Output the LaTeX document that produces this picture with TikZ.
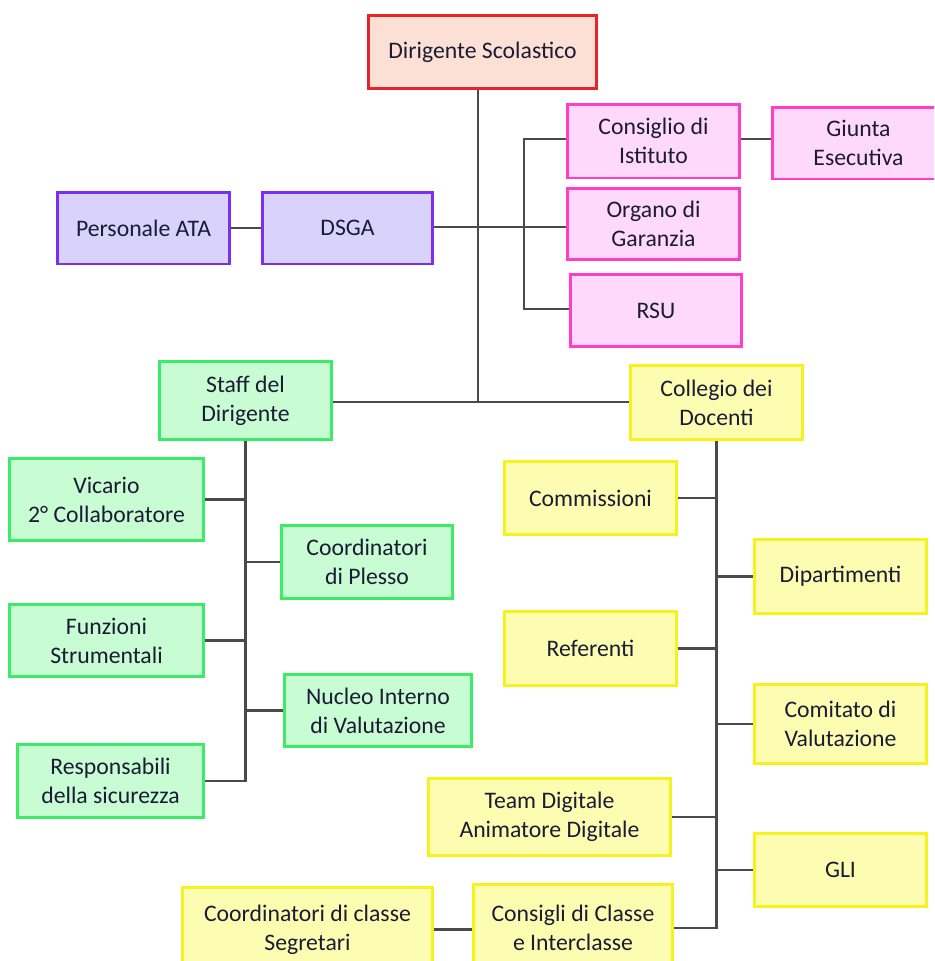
\documentclass[tikz,border=0pt]{standalone}
\usepackage{fontspec}
\setmainfont{Carlito}
\usepackage{xcolor}
\definecolor{OrgRed}{HTML}{E4262C}
\definecolor{OrgRedFill}{HTML}{FDE0D5}
\definecolor{OrgPurple}{HTML}{7B2FF2}
\definecolor{OrgPurpleFill}{HTML}{D9D3FC}
\definecolor{OrgPink}{HTML}{FF3DC6}
\definecolor{OrgPinkFill}{HTML}{FFD9FB}
\definecolor{OrgGreen}{HTML}{3CEB66}
\definecolor{OrgGreenFill}{HTML}{C8FDD3}
\definecolor{OrgYellow}{HTML}{F5F21C}
\definecolor{OrgYellowFill}{HTML}{FDFDB2}
\definecolor{TextNavy}{HTML}{1B1B35}
\definecolor{LineGray}{HTML}{4A4A4A}
\usepackage{tikz}
\usetikzlibrary{calc}
\tikzset{orgline/.style={LineGray,line width=1.4pt}}

\begin{document}
\begin{tikzpicture}[x=0.02cm,y=-0.02cm,
	orgbox/.style={draw,line width=1.7pt,align=center,inner sep=2pt,text=TextNavy,font=\fontsize{13.5}{16.5}\selectfont},
	redbox/.style={orgbox,draw=OrgRed,fill=OrgRedFill},
	purplebox/.style={orgbox,draw=OrgPurple,fill=OrgPurpleFill},
	pinkbox/.style={orgbox,draw=OrgPink,fill=OrgPinkFill},
	greenbox/.style={orgbox,draw=OrgGreen,fill=OrgGreenFill},
	yellowbox/.style={orgbox,draw=OrgYellow,fill=OrgYellowFill}]
		
		\useasboundingbox (0,0) rectangle (934,961);
		\clip (0,0) rectangle (934,961);
		
		%% TOP
		\node[redbox,minimum width=4.58cm,minimum height=1.46cm] (Dirigente) at (482.5,52) {Dirigente Scolastico};
		
		\node[purplebox,minimum width=3.46cm,minimum height=1.44cm] (PersonaleATA) at (143.5,228) {Personale ATA};
		\node[purplebox,minimum width=3.42cm,minimum height=1.44cm] (DSGA) at (347.5,228) {DSGA};
		
		\node[pinkbox,minimum width=3.46cm,minimum height=1.48cm] (Consiglio) at (653.5,141) {Consiglio di\\Istituto};
		\node[pinkbox,minimum width=3.46cm,minimum height=1.44cm] (Giunta) at (858.5,143) {Giunta\\Esecutiva};
		\node[pinkbox,minimum width=3.46cm,minimum height=1.42cm] (Organo) at (653.5,224) {Organo di\\Garanzia};
		\node[pinkbox,minimum width=3.44cm,minimum height=1.44cm] (RSU) at (656,310.5) {RSU};
		
		
		%% STAFF
		\node[greenbox,minimum width=3.46cm,minimum height=1.56cm] (Staff) at (245.5,400.5) {Staff del\\Dirigente};
		\node[greenbox,minimum width=3.90cm,minimum height=1.64cm] (Vicario) at (106.5,499.5) {Vicario\\2° Collaboratore};
		\node[greenbox,minimum width=3.44cm,minimum height=1.46cm] (Plesso) at (367,562) {Coordinatori\\di Plesso};
		\node[greenbox,minimum width=3.90cm,minimum height=1.44cm] (Funzioni) at (106.5,640.5) {Funzioni\\Strumentali};
		\node[greenbox,minimum width=3.76cm,minimum height=1.44cm] (Nucleo) at (378,710.5) {Nucleo Interno\\di Valutazione};
		\node[greenbox,minimum width=3.74cm,minimum height=1.46cm] (Sicurezza) at (110.5,781) {Responsabili\\della sicurezza};
		
		
		%% COLLEGIO
		\node[yellowbox,minimum width=3.46cm,minimum height=1.48cm] (Collegio) at (716.5,402.5) {Collegio dei\\Docenti};
		\node[yellowbox,minimum width=3.46cm,minimum height=1.46cm] (Commissioni) at (590.5,498) {Commissioni};
		\node[yellowbox,minimum width=3.46cm,minimum height=1.48cm] (Dipartimenti) at (840.5,576.5) {Dipartimenti};
		\node[yellowbox,minimum width=3.46cm,minimum height=1.48cm] (Referenti) at (590.5,648.5) {Referenti};
		\node[yellowbox,minimum width=3.46cm,minimum height=1.58cm] (Comitato) at (840.5,724) {Comitato di\\Valutazione};
		\node[yellowbox,minimum width=4.86cm,minimum height=1.54cm] (Team) at (549.5,817) {Team Digitale\\Animatore Digitale};
		\node[yellowbox,minimum width=3.46cm,minimum height=1.46cm] (GLI) at (840.5,870) {GLI};
		\node[yellowbox,minimum width=4.00cm,minimum height=1.74cm] (Consigli) at (573,928) {Consigli di Classe\\e Interclasse};
		\node[yellowbox,minimum width=5.02cm,minimum height=1.68cm] (CoordClasse) at (307.5,929.5) {Coordinatori di classe\\Segretari};
		
		
		%% CONNECTORS TOP
		\coordinate (Trunk) at (478,402);
		\coordinate (Bracket) at (524,227);
		
		\draw[orgline] (Dirigente.south -| Trunk) -- (Trunk);
		\draw[orgline] (Staff.east |- Trunk) -- (Collegio.west |- Trunk);
		\draw[orgline] (PersonaleATA.east) -- (DSGA.west);
		\draw[orgline] (DSGA.east |- Bracket) -- (Organo.west |- Bracket);
		\draw[orgline] (Consiglio.west |- 0,139) -| (Bracket) |- (RSU.west |- 0,309);
		\draw[orgline] (Consiglio.east |- 0,139) -- (Giunta.west |- 0,139);
		
		%% CONNECTORS STAFF
		\draw[orgline] (Staff.south) -- (Staff.south |- Sicurezza.east) -- (Sicurezza.east);
		\foreach \n in {Vicario,Funzioni}{
			\draw[orgline] (\n.east) -- (\n.east -| Staff.south);
		}
		\foreach \n in {Plesso,Nucleo}{
			\draw[orgline] (\n.west) -- (\n.west -| Staff.south);
		}
		
		%% CONNECTORS COLLEGIO
		\draw[orgline] (Collegio.south) -- (Collegio.south |- Consigli.east) -- (Consigli.east);
		\foreach \n in {Commissioni,Referenti,Team}{
			\draw[orgline] (\n.east) -- (\n.east -| Collegio.south);
		}
		\foreach \n in {Dipartimenti,Comitato,GLI}{
			\draw[orgline] (\n.west) -- (\n.west -| Collegio.south);
		}
		\draw[orgline] (CoordClasse.east) -- (CoordClasse.east -| Consigli.west);
		
	\end{tikzpicture}
\end{document}
